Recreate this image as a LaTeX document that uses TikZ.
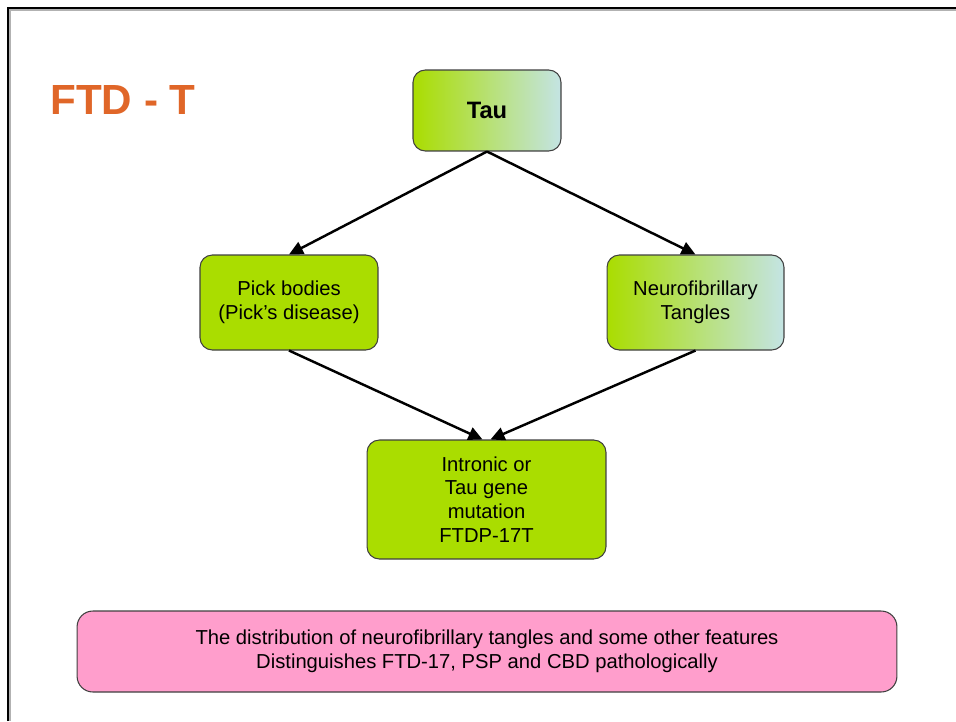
\documentclass[tikz,border=0pt]{standalone}
\usepackage{fontspec}
\setmainfont{Liberation Sans}
\usetikzlibrary{arrows.meta,calc}

\definecolor{titleorange}{HTML}{E06628}
\definecolor{boxgreen}{HTML}{AADD00}
\definecolor{boxteal}{HTML}{C4E4E4}
\definecolor{boxpink}{HTML}{FF9ECC}
\definecolor{edgegray}{HTML}{404040}

\begin{document}
\begin{tikzpicture}[x=0.02cm, y=-0.02cm,
    box/.style={draw=edgegray, line width=0.6pt, rounded corners=7pt, align=center,
                font=\fontsize{11.5}{13.5}\selectfont, inner sep=0pt},
    greenbox/.style={box, fill=boxgreen},
    fadebox/.style={box, left color=boxgreen, right color=boxteal},
    arr/.style={line width=1.4pt, -{Triangle[length=8pt,width=7.5pt]}}]
    \useasboundingbox (0,0) rectangle (956,721);

    % slide frame
    \draw[gray!60, line width=1pt] (10,721) -- (10,10) -- (956,10);
    \draw[line width=1.4pt] (8,721) -- (8,8) -- (956,8);

    \node[anchor=base west, text=titleorange, font=\fontsize{24}{28}\selectfont\bfseries, inner sep=0pt]
        (title) at (50,114) {FTD - T};

    \node[fadebox, minimum width=2.96cm, minimum height=1.62cm, font=\fontsize{13.5}{16}\selectfont\bfseries]
        (tau) at (487,110.5) {Tau};
    \node[greenbox, minimum width=3.56cm, minimum height=1.9cm] (pick) at (289,302.5)
        {Pick bodies\\(Pick’s disease)};
    \node[fadebox, minimum width=3.54cm, minimum height=1.9cm] (nft) at (695.5,302.5)
        {Neurofibrillary\\Tangles};
    \node[greenbox, minimum width=4.78cm, minimum height=2.38cm] (gene) at (486.5,499.5)
        {Intronic or\\Tau gene\\mutation\\FTDP-17T};
    \node[box, fill=boxpink, rounded corners=9pt, minimum width=16.4cm, minimum height=1.62cm] (note) at (487,651.5)
        {The distribution of neurofibrillary tangles and some other features\\Distinguishes FTD-17, PSP and CBD pathologically};

    \draw[arr] (tau.south) -- (pick.north);
    \draw[arr] (tau.south) -- (nft.north);
    \draw[arr] (pick.south) -- ($(gene.north)+(-4,0)$);
    \draw[arr] (nft.south) -- ($(gene.north)+(4,0)$);
\end{tikzpicture}
\end{document}
